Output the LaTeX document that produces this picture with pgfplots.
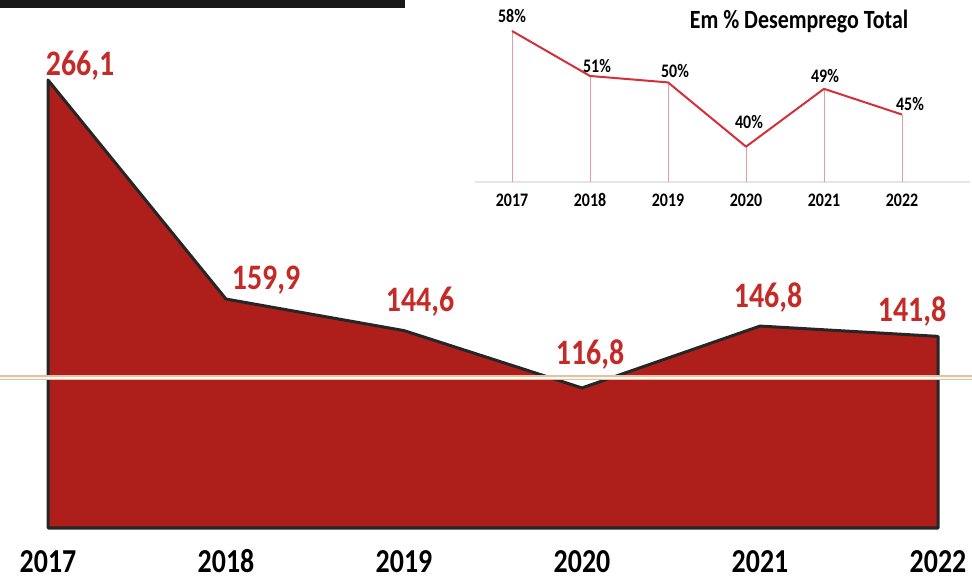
\documentclass[border=0pt]{standalone}
\usepackage{fontspec}
\setmainfont{Carlito}
\usepackage{graphicx}
\usepackage{pgfplots}
\pgfplotsset{compat=1.18}
\definecolor{areared}{HTML}{AE1F1B}
\definecolor{labred}{HTML}{C42A26}
\definecolor{insetred}{HTML}{D3303A}
\definecolor{droppink}{HTML}{E79AA0}
\definecolor{beigeline}{HTML}{DEC2A4}
\newcommand{\vlab}[1]{\scalebox{1}[1.2]{#1}}
\begin{document}
\begin{tikzpicture}
\useasboundingbox (0bp,0bp) rectangle (972bp,581bp);
\fill[black!90] (0bp,573bp) rectangle (405bp,581bp);
\begin{axis}[at={(48bp,53bp)}, anchor=south west, scale only axis,
  width=890bp, height=448bp, xmin=0, xmax=5, ymin=48.9, ymax=266.1,
  clip=false, axis line style={draw=none}, tick style={draw=none},
  xtick={0,1,2,3,4,5},
  xticklabels={\vlab{2017},\vlab{2018},\vlab{2019},\vlab{2020},\vlab{2021},\vlab{2022}},
  ytick=\empty,
  xticklabel style={font=\fontsize{28}{30}\selectfont\bfseries, anchor=base, inner sep=1bp, yshift=-44bp}]
\addplot[fill=areared, draw=black!85, line width=3bp, line join=round]
  coordinates {(0,48.9)(0,266.1)(1,159.9)(2,144.6)(3,116.8)(4,146.8)(5,141.8)(5,48.9)} -- cycle;
\addplot[beigeline, line width=5bp] coordinates {(-0.27,121.65)(5.19,121.65)};
\addplot[white!85!beigeline, line width=1.5bp] coordinates {(-0.27,121.65)(5.19,121.65)};
\begin{scope}[every node/.style={text=labred, font=\fontsize{30}{32}\selectfont\bfseries, anchor=center}]
\node at (axis cs:0,266.1) [xshift=32bp, yshift=14bp] {\vlab{266,1}};
\node at (axis cs:1,159.9) [xshift=40bp, yshift=19bp] {\vlab{159,9}};
\node at (axis cs:2,144.6) [xshift=16bp, yshift=29bp] {\vlab{144,6}};
\node at (axis cs:3,116.8) [xshift=8bp, yshift=33bp] {\vlab{116,8}};
\node at (axis cs:4,146.8) [xshift=8bp, yshift=29bp] {\vlab{146,8}};
\node at (axis cs:5,141.8) [xshift=-26bp, yshift=25bp] {\vlab{141,8}};
\end{scope}
\end{axis}
\begin{axis}[at={(512bp,399bp)}, anchor=south west, scale only axis,
  width=390bp, height=151bp, xmin=0, xmax=5, ymin=34.5, ymax=58,
  clip=false, axis line style={draw=none}, tick style={draw=none},
  xtick={0,1,2,3,4,5},
  xticklabels={\vlab{2017},\vlab{2018},\vlab{2019},\vlab{2020},\vlab{2021},\vlab{2022}},
  ytick=\empty,
  xticklabel style={font=\fontsize{16}{17}\selectfont\bfseries, anchor=base, yshift=-25bp}]
\addplot[gray!20, line width=1.5bp] coordinates {(-0.47,34.5)(5.87,34.5)};
\addplot[droppink, line width=0.8bp] coordinates {(0,34.5)(0,58)};
\addplot[droppink, line width=0.8bp] coordinates {(1,34.5)(1,51)};
\addplot[droppink, line width=0.8bp] coordinates {(2,34.5)(2,50)};
\addplot[droppink, line width=0.8bp] coordinates {(3,34.5)(3,40)};
\addplot[droppink, line width=0.8bp] coordinates {(4,34.5)(4,49)};
\addplot[droppink, line width=0.8bp] coordinates {(5,34.5)(5,45)};
\addplot[insetred, line width=2bp, line join=round] coordinates {(0,58)(1,51)(2,50)(3,40)(4,49)(5,45)};
\begin{scope}[every node/.style={font=\fontsize{16}{17}\selectfont\bfseries, anchor=center}]
\node at (axis cs:0,58) [xshift=0bp, yshift=15bp] {\vlab{58\%}};
\node at (axis cs:1,51) [xshift=7bp, yshift=10bp] {\vlab{51\%}};
\node at (axis cs:2,50) [xshift=7bp, yshift=11bp] {\vlab{50\%}};
\node at (axis cs:3,40) [xshift=3bp, yshift=25bp] {\vlab{40\%}};
\node at (axis cs:4,49) [xshift=1bp, yshift=13bp] {\vlab{49\%}};
\node at (axis cs:5,45) [xshift=8bp, yshift=11bp] {\vlab{45\%}};
\end{scope}
\node[font=\fontsize{22}{24}\selectfont\bfseries, anchor=center] at (axis cs:3.68,59.4) {\vlab{Em \% Desemprego Total}};
\end{axis}
\end{tikzpicture}
\end{document}
